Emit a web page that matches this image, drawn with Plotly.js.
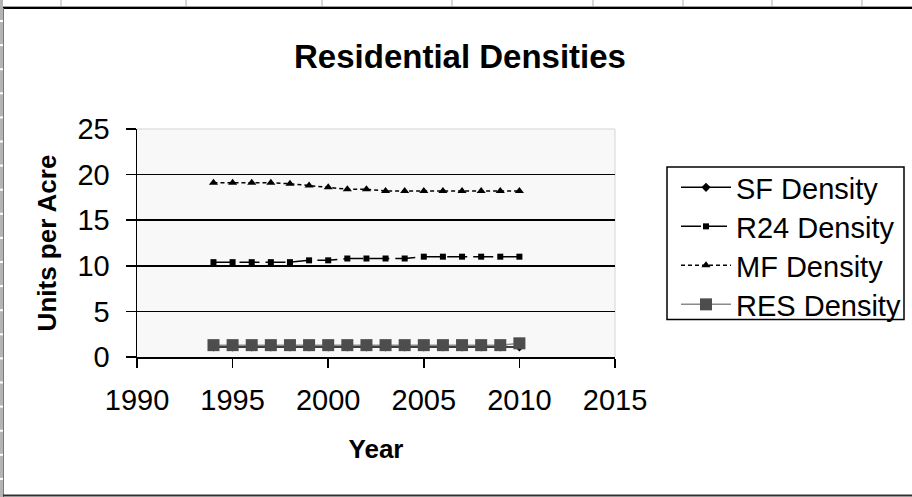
<!DOCTYPE html>
<html>
<head>
<meta charset="utf-8">
<script src="https://cdn.plot.ly/plotly-3.0.1.min.js"></script>
<style>
  html, body { margin: 0; padding: 0; background: #ffffff; }
  #chart { width: 912px; height: 497px; }
</style>
</head>
<body>
<div id="chart"></div>
<script>
// Residential density series, units per acre
const years = [1994, 1995, 1996, 1997, 1998, 1999, 2000, 2001, 2002, 2003, 2004, 2005, 2006, 2007, 2008, 2009, 2010];
const sfDensity  = [1.1, 1.1, 1.1, 1.1, 1.1, 1.1, 1.1, 1.1, 1.1, 1.1, 1.1, 1.1, 1.1, 1.1, 1.1, 1.1, 1.1];
const r24Density = [10.4, 10.4, 10.4, 10.4, 10.4, 10.6, 10.6, 10.8, 10.8, 10.8, 10.8, 11.0, 11.0, 11.0, 11.0, 11.0, 11.0];
const mfDensity  = [19.1, 19.1, 19.1, 19.1, 19.0, 18.8, 18.6, 18.4, 18.4, 18.2, 18.2, 18.2, 18.2, 18.2, 18.2, 18.2, 18.2];
const resDensity = [1.3, 1.3, 1.3, 1.3, 1.3, 1.3, 1.3, 1.3, 1.3, 1.3, 1.3, 1.3, 1.3, 1.3, 1.3, 1.3, 1.5];

const seriesNames = ['SF Density', 'R24 Density', 'MF Density', 'RES Density'];
const xTickVals = [1990, 1995, 2000, 2005, 2010, 2015];
const yTickVals = [0, 5, 10, 15, 20, 25];

// page geometry (pixels)
const W = 912, H = 497;
const M = { l: 137, r: 297, t: 129, b: 140, autoexpand: false };
const plotW = W - M.l - M.r, plotH = H - M.t - M.b;
const px = x => (x - M.l) / plotW;          // pixel x -> paper x
const py = y => (H - M.b - y) / plotH;      // pixel y -> paper y

const FONT = 'Arial, "Liberation Sans", sans-serif';

// one legend box per series so the rows can be spaced evenly
const legendIds = ['legend', 'legend2', 'legend3', 'legend4'];
const legendRowY = [188, 227, 266, 305];

const traces = [
  { x: years, y: sfDensity, name: seriesNames[0], legend: legendIds[0], mode: 'lines+markers',
    line: { color: '#000000', width: 1.5 },
    marker: { symbol: 'diamond', size: 7, color: '#000000' } },
  { x: years, y: r24Density, name: seriesNames[1], legend: legendIds[1], mode: 'lines+markers',
    line: { color: '#000000', width: 1.5, dash: '20px,6px' },
    marker: { symbol: 'square', size: 6, color: '#000000' } },
  { x: years, y: mfDensity, name: seriesNames[2], legend: legendIds[2], mode: 'lines+markers',
    line: { color: '#000000', width: 1.5, dash: '4px,3px' },
    marker: { symbol: 'triangle-up', size: 8, color: '#000000' } },
  { x: years, y: resDensity, name: seriesNames[3], legend: legendIds[3], mode: 'lines+markers',
    line: { color: '#8a8a8a', width: 1.5 },
    marker: { symbol: 'square', size: 12, color: '#4d4d4d' } }
];

// spreadsheet frame around the embedded chart
const shapes = [];
const sheetCols = [61, 186, 322, 452, 593, 683, 772, 862];
sheetCols.forEach(c => shapes.push({ type: 'line', xref: 'paper', yref: 'paper',
  x0: px(c), x1: px(c), y0: py(0), y1: py(6.5), line: { color: '#c8c8c8', width: 1.5 } }));
shapes.push({ type: 'line', xref: 'paper', yref: 'paper', x0: px(0), x1: px(W), y0: py(6.5), y1: py(6.5),
  line: { color: '#a0a0a0', width: 1 } });
shapes.push({ type: 'line', xref: 'paper', yref: 'paper', x0: px(3), x1: px(W), y0: py(8), y1: py(8),
  line: { color: '#000000', width: 2 } });
shapes.push({ type: 'rect', xref: 'paper', yref: 'paper', x0: px(0), x1: px(3), y0: py(0), y1: py(H),
  fillcolor: '#b4b4b4', line: { width: 0 } });
for (let k = 0; k < 20; k++) {
  const yy = 21 + k * 24.1;
  shapes.push({ type: 'line', xref: 'paper', yref: 'paper', x0: px(0), x1: px(3), y0: py(yy), y1: py(yy),
    line: { color: '#ffffff', width: 2 } });
}
shapes.push({ type: 'line', xref: 'paper', yref: 'paper', x0: px(3.5), x1: px(3.5), y0: py(8), y1: py(H),
  line: { color: '#7a7a7a', width: 1 } });
shapes.push({ type: 'line', xref: 'paper', yref: 'paper', x0: px(3), x1: px(W), y0: py(495.5), y1: py(495.5),
  line: { color: '#303030', width: 2 } });
// light border on top and right of the plot area
shapes.push({ type: 'line', xref: 'paper', yref: 'paper', x0: 0, x1: 1, y0: 1, y1: 1,
  line: { color: '#e2e2e2', width: 1.5 }, layer: 'below' });
shapes.push({ type: 'line', xref: 'paper', yref: 'paper', x0: 1, x1: 1, y0: 0, y1: 1,
  line: { color: '#e2e2e2', width: 1.5 }, layer: 'below' });
// legend frame
shapes.push({ type: 'rect', xref: 'paper', yref: 'paper', x0: px(667), x1: px(904), y0: py(167), y1: py(319.5),
  fillcolor: '#ffffff', line: { color: '#000000', width: 1.5 }, layer: 'below' });

const layout = {
  width: W, height: H,
  margin: M,
  paper_bgcolor: '#ffffff',
  plot_bgcolor: '#f8f8f8',
  font: { family: FONT, color: '#000000', size: 28 },
  title: { text: 'Residential Densities', font: { family: FONT, size: 33, weight: 'bold', color: '#000000' },
    x: 460 / W, xanchor: 'center', y: 1 - 56 / H, yanchor: 'middle', yref: 'container' },
  xaxis: {
    range: [1990, 2015], tickvals: xTickVals, ticktext: xTickVals.map(String),
    showgrid: false, zeroline: false, showline: true, linecolor: '#000000', linewidth: 1.5,
    ticks: 'outside', ticklen: 9, tickwidth: 1.5, tickcolor: '#000000',
    tickfont: { family: FONT, size: 29 }, ticklabelstandoff: 8,
    title: { text: 'Year', font: { family: FONT, size: 26, weight: 'bold' }, standoff: 24 },
    fixedrange: true
  },
  yaxis: {
    range: [0, 25], tickvals: yTickVals, ticktext: yTickVals.map(String),
    showgrid: true, gridcolor: '#000000', gridwidth: 1.5,
    zeroline: false, showline: true, linecolor: '#000000', linewidth: 1.5,
    ticks: 'outside', ticklen: 10, tickwidth: 1.5, tickcolor: '#000000',
    tickfont: { family: FONT, size: 29 }, ticklabelstandoff: 10,
    title: { text: 'Units per Acre', font: { family: FONT, size: 26, weight: 'bold' }, standoff: 13 },
    fixedrange: true
  },
  showlegend: true,
  shapes: shapes
};

legendIds.forEach((id, i) => {
  layout[id] = {
    x: px(676), y: py(legendRowY[i] - 26), xanchor: 'left', yanchor: 'top',
    bgcolor: 'rgba(0,0,0,0)', borderwidth: 0,
    font: { family: FONT, size: 29, color: '#000000' },
    itemwidth: 50
  };
});

Plotly.newPlot('chart', traces, layout, { displayModeBar: false, staticPlot: true });
</script>
</body>
</html>
